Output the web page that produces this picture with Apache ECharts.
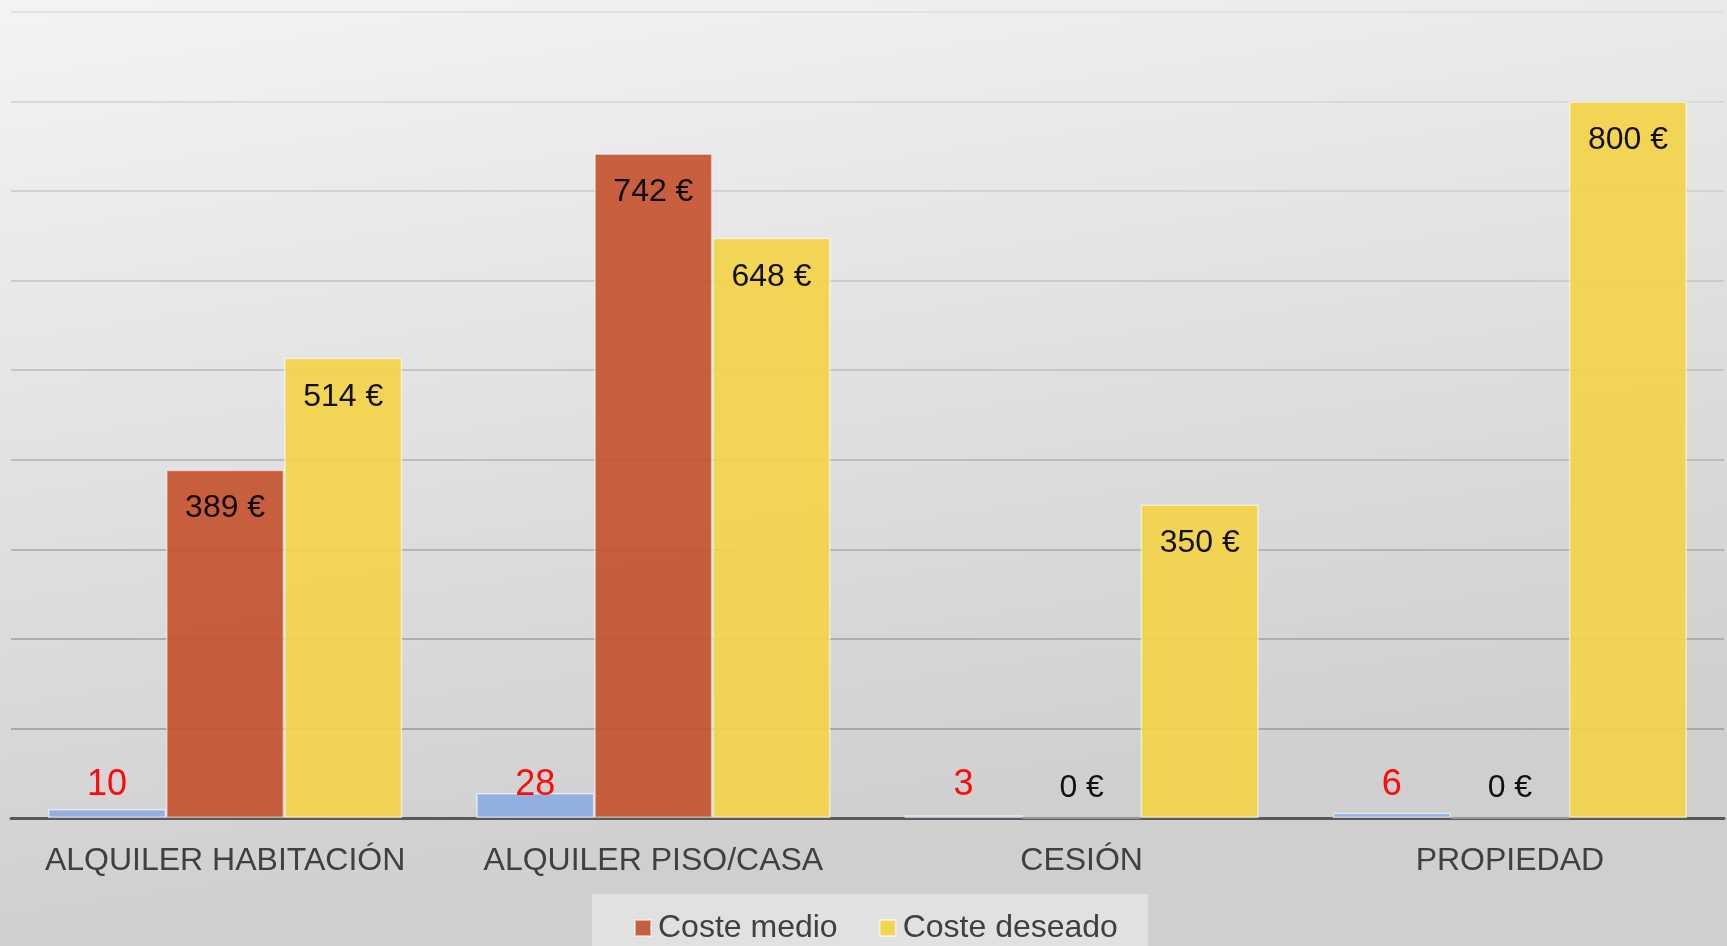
<!DOCTYPE html>
<html>
<head>
<meta charset="utf-8">
<title>Coste vivienda</title>
<script src="https://cdn.jsdelivr.net/npm/echarts@6/dist/echarts.min.js"></script>
<style>
html, body { margin: 0; padding: 0; background: #dcdcdc; }
#chart { width: 1727px; height: 946px; }
</style>
</head>
<body>
<div id="chart"></div>
<script>
// datos
var categorias = ['ALQUILER HABITACIÓN', 'ALQUILER PISO/CASA', 'CESIÓN', 'PROPIEDAD'];
var personas = [10, 28, 3, 6];          // barras azules (sin leyenda)
var costeMedio = [389, 742, 0, 0];
var costeDeseado = [514, 648, 350, 800];

var fuente = '"Liberation Sans", Arial, sans-serif';

// etiqueta dentro arriba, salvo los ceros que van sobre el eje
function conEtiquetas(valores) {
    return valores.map(function (v) {
        if (v === 0) {
            return { value: v, label: { position: 'insideBottom', distance: 15 } };
        }
        return v;
    });
}

var chart = echarts.init(document.getElementById('chart'));

var option = {
    backgroundColor: {
        type: 'linear', x: 0, y: 0, x2: 0.08, y2: 1,
        colorStops: [
            { offset: 0, color: '#f4f4f4' },
            { offset: 1, color: '#cfcfcf' }
        ]
    },
    animation: false,
    textStyle: { fontFamily: fuente },
    grid: { left: 11, right: 3, top: 12, bottom: 128 },
    legend: {
        data: ['Coste medio', 'Coste deseado'],
        left: 592,
        top: 894,
        padding: [18, 30, 20, 42],
        backgroundColor: '#e1e1e1',
        itemWidth: 16,
        itemHeight: 16,
        itemGap: 41,
        icon: 'rect',
        textStyle: { fontSize: 32, color: '#404040', fontFamily: fuente, padding: [0, 0, 0, 2] }
    },
    xAxis: {
        type: 'category',
        data: categorias,
        axisTick: { show: false },
        axisLine: { lineStyle: { color: '#595959', width: 3 } },
        axisLabel: { interval: 0, fontSize: 32, color: '#404040', margin: 27, fontFamily: fuente }
    },
    yAxis: {
        type: 'value',
        min: 0,
        max: 900,
        interval: 100,
        axisLabel: { show: false },
        axisLine: { show: false },
        axisTick: { show: false },
        splitLine: {
            lineStyle: {
                width: 2,
                color: {
                    type: 'linear', x: 0, y: 0, x2: 0, y2: 946, global: true,
                    colorStops: [
                        { offset: 0, color: '#e2e2e2' },
                        { offset: 1, color: '#969696' }
                    ]
                }
            }
        }
    },
    series: [
        {
            name: 'Personas',
            type: 'bar',
            data: personas,
            barGap: 0,
            barCategoryGap: '17.3%',
            itemStyle: { color: '#8eaedf', opacity: 0.95, borderColor: 'rgba(255,255,255,0.6)', borderWidth: 1.5 },
            label: {
                show: true,
                position: 'insideBottom',
                distance: 15,
                formatter: '{c}',
                fontSize: 36,
                color: '#ff0000',
                fontFamily: fuente
            }
        },
        {
            name: 'Coste medio',
            type: 'bar',
            data: conEtiquetas(costeMedio),
            itemStyle: { color: '#c4522f', opacity: 0.92, borderColor: 'rgba(255,255,255,0.55)', borderWidth: 1.5 },
            label: {
                show: true,
                position: 'insideTop',
                distance: 23,
                formatter: '{c} €',
                fontSize: 32,
                color: '#000',
                fontFamily: fuente
            }
        },
        {
            name: 'Coste deseado',
            type: 'bar',
            data: conEtiquetas(costeDeseado),
            itemStyle: { color: '#f4d44a', opacity: 0.92, borderColor: 'rgba(255,255,255,0.6)', borderWidth: 1.5 },
            label: {
                show: true,
                position: 'insideTop',
                distance: 23,
                formatter: '{c} €',
                fontSize: 32,
                color: '#000',
                fontFamily: fuente
            }
        }
    ]
};

chart.setOption(option);
window.onresize = function () {
    chart.resize();
};
</script>
</body>
</html>
